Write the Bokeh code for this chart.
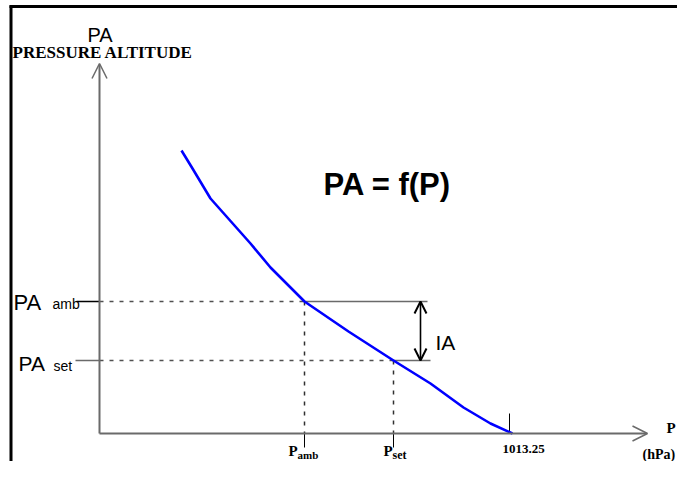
from bokeh.plotting import figure
from bokeh.models import Range1d, Arrow, OpenHead
from bokeh.core.properties import value
from bokeh.embed import file_html
from bokeh.resources import INLINE

# Schematic data (diagram units: x = pressure offset, y = pressure-altitude offset)
curve_p = [82, 93, 111, 151, 171, 205, 249, 294, 331, 364, 391, 413]
curve_pa = [283, 265, 235, 190, 166, 132, 102, 73, 50, 26, 10, 0]

p_amb = 205      # ambient pressure
p_set = 294      # set pressure
p_std = 413      # 1013.25 hPa
pa_amb = 132     # ambient pressure altitude
pa_set = 73      # set pressure altitude

y_axis_top = 370
x_axis_end = 548

std_label = "1013.25"
title_text = "PA = f(P)"

SANS = value("Liberation Sans")
SERIF = value("Liberation Serif")
GREY = "#6a6a6a"

p = figure(width=677, height=461, output_backend="svg", toolbar_location=None,
           x_range=Range1d(-99, 578), y_range=Range1d(-28, 433),
           min_border=0, outline_line_color=None, background_fill_color="white")
p.axis.visible = False
p.grid.visible = False

# frame border (left and top)
p.line([-88.5, -88.5], [-28, 428], line_color="black", line_width=3)
p.line([-90, 578], [427, 427], line_color="black", line_width=3)

# axes with open arrow heads
p.add_layout(Arrow(end=OpenHead(size=15, line_color=GREY, line_width=1.5),
                   x_start=0, y_start=0, x_end=0, y_end=y_axis_top,
                   line_color=GREY, line_width=2))
p.add_layout(Arrow(end=OpenHead(size=15, line_color=GREY, line_width=1.5),
                   x_start=0, y_start=0, x_end=x_axis_end, y_end=0,
                   line_color=GREY, line_width=2))

# dashed reference lines
p.line([0, p_amb], [pa_amb, pa_amb], line_color="#505050", line_width=1.5, line_dash="4 6")
p.line([0, p_set], [pa_set, pa_set], line_color="#505050", line_width=1.5, line_dash="4 6")
p.line([p_amb, p_amb], [pa_amb, 0], line_color="#303030", line_width=1.5, line_dash="4 6")
p.line([p_set, p_set], [pa_set, 0], line_color="#303030", line_width=1.5, line_dash="4 6")

# solid stubs near labels and to the right of the curve
p.line([-23, 0], [pa_amb, pa_amb], line_color="black", line_width=1.3)
p.line([-24, 0], [pa_set, pa_set], line_color=GREY, line_width=1.5)
p.line([p_amb, 328], [pa_amb, pa_amb], line_color=GREY, line_width=1.5)
p.line([p_set, 331], [pa_set, pa_set], line_color=GREY, line_width=1.5)

# ticks
p.segment(x0=[p_amb, p_set], y0=[0, 0], x1=[p_amb, p_set], y1=[-14, -14],
          line_color="black", line_width=1)
p.segment(x0=[p_std - 3], y0=[0], x1=[p_std - 3], y1=[20], line_color="black", line_width=1)

# curve
p.line(curve_p, curve_pa, line_color="#0000ff", line_width=2.6, line_join="round")

# IA double arrow
p.add_layout(Arrow(start=OpenHead(size=12, line_color="black", line_width=2),
                   end=OpenHead(size=12, line_color="black", line_width=2),
                   x_start=321, y_start=pa_amb, x_end=321, y_end=pa_set,
                   line_color="black", line_width=1.6))

def txt(x, y, s, size, font=SANS, style="normal"):
    p.text(x=[x], y=[y], text=[s], text_font=font, text_font_size=f"{size}px",
           text_font_style=style, text_align="left", text_baseline="alphabetic",
           text_color="black")

txt(-12, 399, "PA", 20)
txt(-87, 381, "PRESSURE ALTITUDE", 17, SERIF, "bold")
txt(-86, pa_amb - 1, "PA", 22)
txt(-47, pa_amb - 2, "amb", 14)
txt(-81, pa_set - 3, "PA", 21)
txt(-46, pa_set - 5, "set", 14)
txt(p_amb - 16, -17, "P", 15, SERIF, "bold")
txt(p_amb - 7, -21, "amb", 11, SERIF, "bold")
txt(p_set - 10, -17, "P", 15, SERIF, "bold")
txt(p_set - 1, -21, "set", 12, SERIF, "bold")
txt(p_std - 10, -15, std_label, 13, SERIF, "bold")
txt(567, 6, "P", 15, SERIF, "bold")
txt(543, -21, "(hPa)", 14, SERIF, "bold")
txt(336, 91, "IA", 21)
txt(224, 249, title_text, 31, SANS, "bold")

open("out.html", "w").write(file_html(p, INLINE))
